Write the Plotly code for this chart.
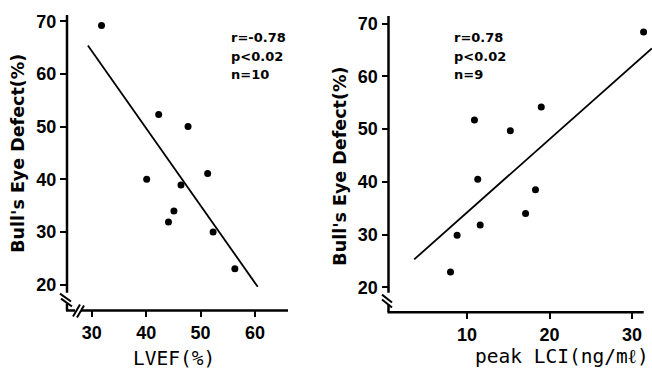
import plotly.graph_objects as go

# ---- data ----
lvef = [31.8, 42.3, 47.7, 40.1, 51.3, 46.4, 45.1, 44.1, 52.3, 56.3]
bed_lvef = [69.2, 52.3, 50.0, 40.0, 41.1, 38.9, 34.0, 31.9, 30.0, 23.0]
fit_lvef_x = [29.3, 60.5]
fit_lvef_y = [65.4, 19.6]

lci = [31.4, 10.9, 19.0, 15.25, 11.3, 18.3, 17.1, 11.6, 8.8, 8.0]
bed_lci = [68.4, 51.7, 54.2, 49.7, 40.5, 38.5, 34.0, 31.8, 29.9, 22.9]
fit_lci_x = [3.6, 32.4]
fit_lci_y = [25.3, 65.3]

left_xticks = [30, 40, 50, 60]
right_xticks = [10, 20, 30]
yticks = [20, 30, 40, 50, 60, 70]

stats_left = ["r=-0.78", "p<0.02", "n=10"]
stats_right = ["r=0.78", "p<0.02", "n=9"]

W, H = 652, 370


def px(x, y):
    return x / W, 1 - y / H


fig = go.Figure()
fig.add_trace(go.Scatter(x=lvef, y=bed_lvef, mode="markers",
                         marker=dict(color="black", size=7), xaxis="x", yaxis="y"))
fig.add_trace(go.Scatter(x=fit_lvef_x, y=fit_lvef_y, mode="lines",
                         line=dict(color="black", width=1.8), xaxis="x", yaxis="y"))
fig.add_trace(go.Scatter(x=lci, y=bed_lci, mode="markers",
                         marker=dict(color="black", size=7), xaxis="x2", yaxis="y2"))
fig.add_trace(go.Scatter(x=fit_lci_x, y=fit_lci_y, mode="lines",
                         line=dict(color="black", width=1.8), xaxis="x2", yaxis="y2"))

tickfont = dict(family="Liberation Sans", size=18, color="black", weight="bold")
axcommon = dict(showgrid=False, zeroline=False, showline=False, ticks="outside",
                ticklen=6, tickwidth=2, tickcolor="black", tickfont=tickfont)

fig.update_layout(
    width=W, height=H, margin=dict(l=0, r=0, t=0, b=0),
    paper_bgcolor="white", plot_bgcolor="white", showlegend=False,
    xaxis=dict(domain=[67 / W, 288 / W], range=[25.46, 66.06],
               tickvals=left_xticks, anchor="y", **axcommon),
    yaxis=dict(domain=[1 - 310 / H, 1 - 12 / H], range=[15.1, 71.2],
               tickvals=yticks, anchor="x", **axcommon),
    xaxis2=dict(domain=[388.5 / W, 1.0], range=[0.485, 32.42],
                tickvals=right_xticks, anchor="y2", **axcommon),
    yaxis2=dict(domain=[1 - 311.7 / H, 1 - 13 / H], range=[15.3, 71.45],
                tickvals=yticks, anchor="x2", **axcommon),
)

# ---- axis lines with break marks (decoration, paper coords) ----
def seg(x0, y0, x1, y1, w=2.5):
    a = px(x0, y0)
    b = px(x1, y1)
    fig.add_shape(type="line", xref="paper", yref="paper",
                  x0=a[0], y0=a[1], x1=b[0], y1=b[1],
                  line=dict(color="black", width=w))

# left panel
seg(67, 12, 67, 292)
seg(60, 293, 71, 301, 2)
seg(61, 298, 72, 306, 2)
seg(67, 303, 67, 310)
seg(66, 310, 75, 310)
seg(73, 316, 80, 304, 2)
seg(77, 317, 84, 305, 2)
seg(81, 310, 288, 310)
# right panel
seg(388.5, 13, 388.5, 292)
seg(382, 294, 392, 302, 2)
seg(382, 299, 392, 307, 2)
seg(388.5, 304, 388.5, 311.7)
seg(387.5, 311.7, 643.7, 311.7)

# ---- titles ----
ytitlefont = dict(family="DejaVu Sans", size=17.5, color="black", weight="bold")
for (cx, cy) in [(18, 152), (340, 165)]:
    x, y = px(cx, cy)
    fig.add_annotation(xref="paper", yref="paper", x=x, y=y, text="Bull's Eye Defect(%)",
                       textangle=-90, showarrow=False, font=ytitlefont,
                       xanchor="center", yanchor="middle")
xtitlefont = dict(family="DejaVu Sans Mono", size=19.5, color="black")
for (cx, cy, t) in [(174, 358, "LVEF(%)"), (562, 356, "peak LCI(ng/mℓ)")]:
    x, y = px(cx, cy)
    fig.add_annotation(xref="paper", yref="paper", x=x, y=y, text=t,
                       showarrow=False, font=xtitlefont, xanchor="center", yanchor="middle")

statfont = dict(family="DejaVu Sans", size=13, color="black", weight="bold")
for lines, lx in [(stats_left, 229), (stats_right, 452)]:
    for t, ly in zip(lines, [35, 54, 72]):
        x, y = px(lx, ly)
        fig.add_annotation(xref="paper", yref="paper", x=x, y=y, text=t,
                           showarrow=False, font=statfont, xanchor="left", yanchor="middle")

fig.write_html("out.html", config={"displayModeBar": False},
               post_script="document.body.style.margin='0';document.body.style.padding='0';document.body.style.overflow='hidden';")
